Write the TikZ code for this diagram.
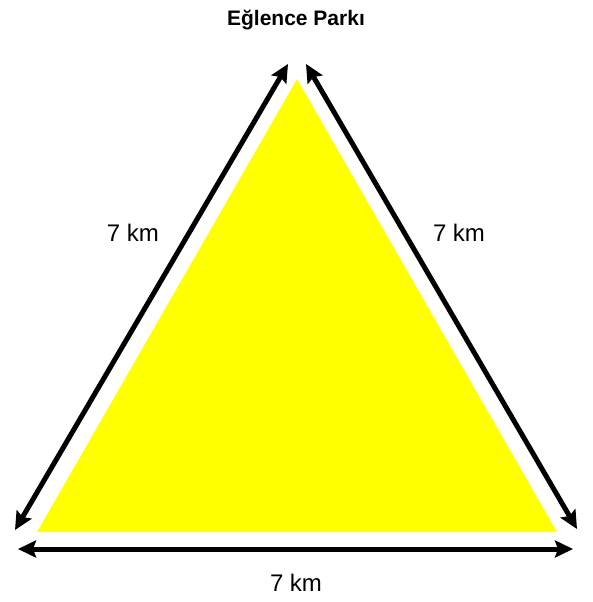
\documentclass[tikz,border=0pt]{standalone}
\usepackage{fontspec}
\setmainfont{Liberation Sans}
\usetikzlibrary{arrows.meta}
\definecolor{parkyellow}{RGB}{255,255,0}
\begin{document}
\begin{tikzpicture}[x=1pt, y=-1pt]
	% Define styles
	\tikzset{
		sidearrow/.style={line width=5pt, {Stealth[length=18pt,width=17pt,inset=3pt]}-{Stealth[length=18pt,width=17pt,inset=3pt]}},
		sidelabel/.style={font=\fontsize{24}{28}\selectfont},
		parktitle/.style={font=\bfseries\fontsize{21}{25}\selectfont}
	}
	\useasboundingbox (0,0) rectangle (592,602);
	
	% Triangle
	\coordinate (apex) at (297,79);
	\coordinate (left) at (37,532);
	\coordinate (right) at (557,532);
	\fill[parkyellow] (apex) -- (left) -- (right) -- cycle;
	
	% Arrow ends
	\coordinate (ltop) at (288,64);
	\coordinate (lbot) at (15,530);
	\coordinate (rtop) at (306,64);
	\coordinate (rbot) at (577,529);
	\coordinate (bl) at (18,549);
	\coordinate (br) at (573,549);
	
	% Nodes
	\node[parktitle] (title) at (296,20) {Eğlence Parkı};
	\node[sidelabel] (leftlen) at (133,233) {7 km};
	\node[sidelabel] (rightlen) at (459,233) {7 km};
	\node[sidelabel] (bottomlen) at (296,583) {7 km};
	
	% Arrows
	\draw[sidearrow] (lbot) -- (ltop);
	\draw[sidearrow] (rtop) -- (rbot);
	\draw[sidearrow] (bl) -- (br);
\end{tikzpicture}
\end{document}
